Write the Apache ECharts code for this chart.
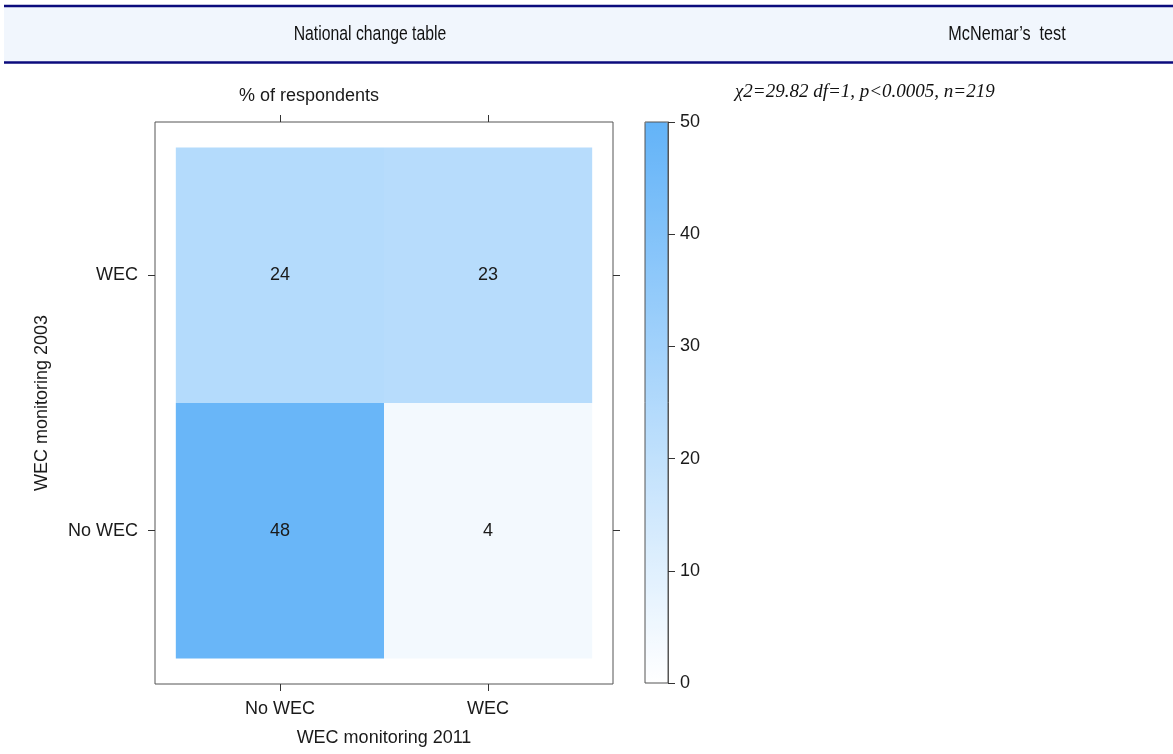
<!DOCTYPE html>
<html><head><meta charset="utf-8">
<script src="https://cdn.jsdelivr.net/npm/echarts@6/dist/echarts.min.js"></script>
<style>html,body{margin:0;padding:0;background:#fff}#c{width:1173px;height:754px}</style>
</head><body><div id="c"></div>
<script>
// ---- data ----
const categories2011 = ['No WEC', 'WEC'];          // x axis (columns)
const categories2003 = ['No WEC', 'WEC'];          // y axis (rows)
const rowNoWec2003 = [48, 4];                      // % of respondents, row "No WEC" (2003)
const rowWec2003 = [24, 23];                       // % of respondents, row "WEC" (2003)
const colorbarTicks = [0, 10, 20, 30, 40, 50];
const headerTitles = ['National change table', 'McNemar\u2019s  test'];
const testResult = '\u03c72=29.82 df=1, p<0.0005, n=219';

const cells = [];
[rowNoWec2003, rowWec2003].forEach((row, r) => row.forEach((v, c) => cells.push([c, r, v])));
const catIdx = categories2011.map((_, i) => i);

const FONT = 'Liberation Sans, Arial, sans-serif';
const txt = '#1a1a1a';
const tickStyle = { color: '#333' };

function catAxis(grid, pos, labels, margin, extra) {
  return Object.assign({
    gridIndex: grid, type: 'value', min: -0.6, max: 1.6, position: pos,
    splitLine: { show: false },
    axisLine: { show: false, onZero: false },
    axisTick: { show: true, customValues: catIdx, length: 7, lineStyle: tickStyle },
    axisLabel: labels ? { customValues: catIdx, formatter: v => labels[Math.round(v)], fontSize: 18, color: txt, fontFamily: FONT, margin: margin } : { show: false }
  }, extra || {});
}

const chart = echarts.init(document.getElementById('c'));
chart.setOption({
  animation: false,
  backgroundColor: '#fff',
  grid: [
    { left: 155, top: 122, width: 458, height: 562, show: true, borderColor: '#555', borderWidth: 1 },
    { left: 645, top: 122, width: 23, height: 561, show: true, borderColor: '#555', borderWidth: 1, z: 10 }
  ],
  xAxis: [
    catAxis(0, 'bottom', categories2011, 16, {
      name: 'WEC monitoring 2011', nameLocation: 'middle', nameGap: 45,
      nameTextStyle: { fontSize: 18, color: txt, fontFamily: FONT } }),
    catAxis(0, 'top', null),
    { gridIndex: 1, type: 'value', min: 0, max: 1, show: false }
  ],
  yAxis: [
    catAxis(0, 'left', categories2003, 17, {
      name: 'WEC monitoring 2003', nameLocation: 'middle', nameGap: 104, nameRotate: 90,
      nameTextStyle: { fontSize: 18, color: txt, fontFamily: FONT } }),
    catAxis(0, 'right', null),
    { gridIndex: 1, type: 'value', min: colorbarTicks[0], max: colorbarTicks[colorbarTicks.length - 1], interval: 10,
      position: 'right', z: 10,
      splitLine: { show: false }, axisLine: { show: true, onZero: false, lineStyle: { color: '#555' } },
      axisTick: { show: true, length: 7, lineStyle: tickStyle },
      axisLabel: { fontSize: 18, color: txt, fontFamily: FONT, margin: 12 } }
  ],
  visualMap: {
    type: 'continuous', min: 0, max: 50, calculable: false, hoverLink: false,
    seriesIndex: 0, dimension: 2, orient: 'vertical',
    itemWidth: 23, itemHeight: 561, left: 645, top: 122, padding: 0, z: 2,
    inRange: { color: ['#ffffff', '#63b3f8'] }
  },
  series: [{
    type: 'custom', xAxisIndex: 0, yAxisIndex: 0, data: cells,
    encode: { x: 0, y: 1 },
    renderItem: (params, api) => {
      const x = api.value(0), y = api.value(1);
      const p0 = api.coord([x - 0.5, y + 0.5]);
      const p1 = api.coord([x + 0.5, y - 0.5]);
      return {
        type: 'rect',
        shape: { x: p0[0], y: p0[1], width: p1[0] - p0[0], height: p1[1] - p0[1] },
        style: { fill: api.visual('color') },
        textContent: { style: { text: String(api.value(2)), fontSize: 18, fill: txt, fontFamily: FONT } },
        textConfig: { position: 'inside' }
      };
    }
  }],
  graphic: [
    { type: 'rect', shape: { x: 4, y: 6, width: 1169, height: 56 }, style: { fill: '#f1f6fd' }, z: -1 },
    { type: 'line', shape: { x1: 4, y1: 6, x2: 1173, y2: 6 }, style: { stroke: '#0b0b7c', lineWidth: 2.5 } },
    { type: 'line', shape: { x1: 4, y1: 62.5, x2: 1173, y2: 62.5 }, style: { stroke: '#0b0b7c', lineWidth: 2.5 } },
    { type: 'text', x: 370, y: 34, scaleX: 0.77, style: { text: headerTitles[0], fontSize: 20.5, fontFamily: FONT, fill: '#111', align: 'center', verticalAlign: 'middle' } },
    { type: 'text', x: 1007, y: 34, scaleX: 0.79, style: { text: headerTitles[1], fontSize: 20.5, fontFamily: FONT, fill: '#111', align: 'center', verticalAlign: 'middle' } },
    { type: 'text', x: 735, y: 92, style: { text: testResult, fontSize: 19, fontStyle: 'italic', fontFamily: 'Liberation Serif, Times New Roman, serif', fill: '#111', align: 'left', verticalAlign: 'middle' } },
    { type: 'text', x: 309, y: 96, style: { text: '% of respondents', fontSize: 18, fontFamily: FONT, fill: txt, align: 'center', verticalAlign: 'middle' } }
  ]
});
</script></body></html>
